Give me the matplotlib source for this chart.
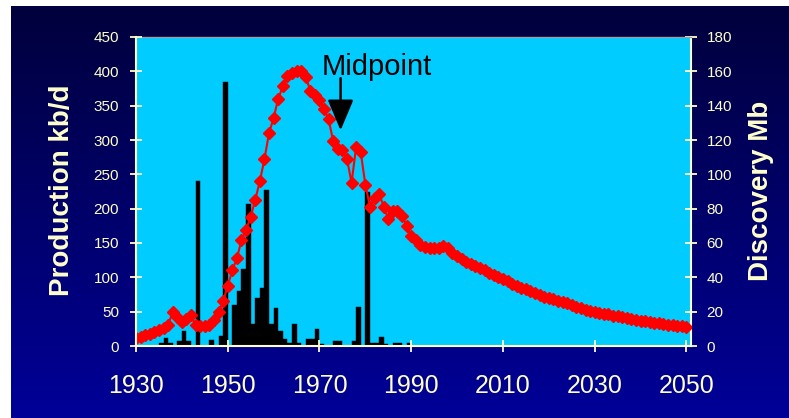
import numpy as np
import matplotlib.pyplot as plt
from matplotlib.colors import LinearSegmentedColormap

# production kb/d, one value per year 1930..2050
years = np.arange(1930, 2051)
production = [
    11, 13, 16, 18, 21, 23, 26, 30, 50, 42,
    35, 40, 45, 30, 29, 29, 30, 38, 50, 65,
    88, 110, 128, 154, 169, 188, 213, 240, 272, 310,
    332, 360, 378, 393, 397, 400, 400, 392, 372, 366,
    358, 345, 330, 298, 287, 285, 272, 238, 290, 282,
    235, 203, 215, 222, 203, 185, 196, 196, 190, 175,
    160, 155, 147, 144, 143, 142, 143, 146, 142, 136,
    131, 127, 123, 119, 116, 113, 110, 106, 103, 100,
    97, 94, 91, 88, 85, 83, 80, 77, 75, 72,
    70, 68, 66, 64, 62, 59, 57, 55, 53, 51,
    50, 48, 47, 46, 44, 43, 42, 41, 39, 38,
    37, 36, 35, 34, 33, 32, 31, 30, 29, 29,
    28,
]

# discovery Mb, 1930..1990
disc_years = np.arange(1930, 1991)
discovery = [
    0, 0, 0, 0, 0, 2, 4.5, 1.5, 0, 3,
    9, 3, 0, 96, 0, 0, 3.5, 0, 6, 154,
    0, 24, 32, 45, 83, 13, 28, 34, 91, 13,
    22, 9, 4, 1.5, 13, 2, 0, 4, 4, 10,
    1, 0, 0, 3, 3, 0, 0, 3, 23, 0,
    90, 2, 2, 5, 1, 0, 2, 2, 0, 1.5,
    0,
]

x_ticks = [1930, 1950, 1970, 1990, 2010, 2030, 2050]
left_ticks = np.arange(0, 451, 50)
right_ticks = np.arange(0, 181, 20)

cream = '#FFFFCC'
plt.rcParams['font.family'] = ['Liberation Sans', 'DejaVu Sans']

fig = plt.figure(figsize=(7.89, 4.18), dpi=100)
fig.patch.set_facecolor('white')

# dark blue gradient panel
bg = fig.add_axes([11 / 789, 0, 1 - 11 / 789, 1 - 6 / 418])
grad = np.linspace(0, 1, 256).reshape(-1, 1)
cmap = LinearSegmentedColormap.from_list('bg', ['#00003C', '#000098'])
bg.imshow(grad, aspect='auto', cmap=cmap, extent=[0, 1, 0, 1], origin='upper')
bg.axis('off')

rect = [136 / 789, 1 - 346 / 418, 555 / 789, 309 / 418]

# discovery bars (right axis), underneath
ax2 = fig.add_axes(rect)
ax2.set_facecolor('#00CCFF')
ax2.bar(disc_years, discovery, width=1.0, align='edge', color='black',
        edgecolor='black', linewidth=0.3)
ax2.set_xlim(1930, 2051)
ax2.set_ylim(0, 180)
ax2.set_yticks(right_ticks)
ax2.set_xticks([])
ax2.yaxis.tick_right()
ax2.tick_params(axis='y', direction='inout', length=8.6, width=1.3, colors=cream,
                labelsize=11, pad=7)

# production line (left axis), on top
ax = fig.add_axes(rect)
ax.patch.set_visible(False)
ax.plot(years, production, color='red', lw=1.5, marker='D', markersize=6,
        markerfacecolor='red', markeredgecolor='red')
ax.set_xlim(1930, 2051)
ax.set_ylim(0, 450)
ax.set_xticks(x_ticks)
ax.set_yticks(left_ticks)
ax.tick_params(axis='y', direction='inout', length=8.6, width=1.3, colors=cream,
               labelsize=11, pad=8)
ax.tick_params(axis='x', direction='inout', length=8.6, width=1.3, colors=cream,
               labelsize=18, pad=16)

for a in (ax, ax2):
    for s in a.spines.values():
        s.set_visible(False)
ax.spines['left'].set_visible(True)
ax.spines['bottom'].set_visible(True)
ax2.spines['right'].set_visible(True)
ax2.spines['top'].set_visible(True)
for s in (ax.spines['left'], ax.spines['bottom'], ax2.spines['right']):
    s.set_color(cream)
    s.set_linewidth(1.5)
ax2.spines['top'].set_color('#9aa0a8')
ax2.spines['top'].set_linewidth(1)

# midpoint annotation
ax.annotate('', xy=(1974.6, 314), xytext=(1974.6, 390),
            arrowprops=dict(arrowstyle='-|>,head_length=0.95,head_width=0.4',
                            mutation_scale=20, color='black', lw=1.8,
                            shrinkA=0, shrinkB=0))
ax.text(1982.5, 395, 'Midpoint', ha='center', va='baseline', fontsize=21,
        color='black')

fig.text(62 / 789, 1 - 190 / 418, 'Production kb/d', rotation=90, ha='center',
         va='center', fontsize=20, fontweight='bold', color=cream)
fig.text(761 / 789, 1 - 191 / 418, 'Discovery Mb', rotation=90, ha='center',
         va='center', fontsize=20, fontweight='bold', color=cream)

fig.savefig('out.png', dpi=100, facecolor=fig.get_facecolor())
